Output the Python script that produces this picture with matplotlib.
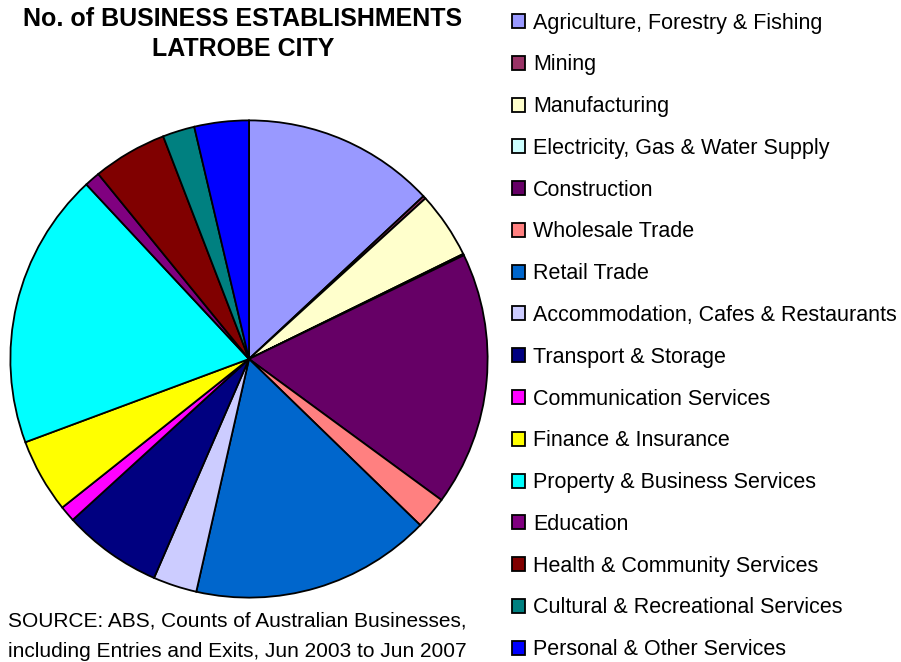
import matplotlib
matplotlib.use("Agg")
import matplotlib.pyplot as plt

# share of business establishments by industry (%)
industries = [
    "Agriculture, Forestry & Fishing",
    "Mining",
    "Manufacturing",
    "Electricity, Gas & Water Supply",
    "Construction",
    "Wholesale Trade",
    "Retail Trade",
    "Accommodation, Cafes & Restaurants",
    "Transport & Storage",
    "Communication Services",
    "Finance & Insurance",
    "Property & Business Services",
    "Education",
    "Health & Community Services",
    "Cultural & Recreational Services",
    "Personal & Other Services",
]
shares = [13.06, 0.2, 4.5, 0.1, 17.24, 2.2, 16.3, 2.97,
          6.72, 1.08, 5.03, 18.75, 1.06, 5.03, 2.17, 3.69]
colors = ["#9999FF", "#993366", "#FFFFCC", "#CCFFFF", "#660066", "#FF8080",
          "#0066CC", "#CCCCFF", "#000080", "#FF00FF", "#FFFF00", "#00FFFF",
          "#800080", "#800000", "#008080", "#0000FF"]

plt.rcParams['font.family'] = ['Liberation Sans', 'DejaVu Sans']

W, H = 901, 662
fig = plt.figure(figsize=(W / 100, H / 100), dpi=100)

cx, cy, r = 249, 359, 241
ax = fig.add_axes([(cx - r) / W, (H - cy - r) / H, 2 * r / W, 2 * r / H])
wedges, _ = ax.pie(shares, colors=colors, startangle=90, counterclock=False,
                   radius=1, wedgeprops=dict(edgecolor="black", linewidth=1.3))
ax.set_xlim(-1.01, 1.01)
ax.set_ylim(-1.01, 1.01)
ax.axis("off")

fig.text(243 / W, 1 - 34 / H, "No. of BUSINESS ESTABLISHMENTS\nLATROBE CITY",
         ha="center", va="center", fontsize=18, fontweight="bold",
         linespacing=1.3)

fig.text(8 / W, 1 - 636 / H,
         "SOURCE: ABS, Counts of Australian Businesses,\n"
         "including Entries and Exits, Jun 2003 to Jun 2007",
         ha="left", va="center", fontsize=15, linespacing=1.78)

fig.legend(wedges, industries, loc="upper left",
           bbox_to_anchor=(503 / W, 1 - 4 / H), frameon=False,
           fontsize=15.5, handlelength=0.62, handleheight=0.62,
           handletextpad=0.38, labelspacing=0.965, borderaxespad=0)

fig.savefig("out.png", dpi=100)
